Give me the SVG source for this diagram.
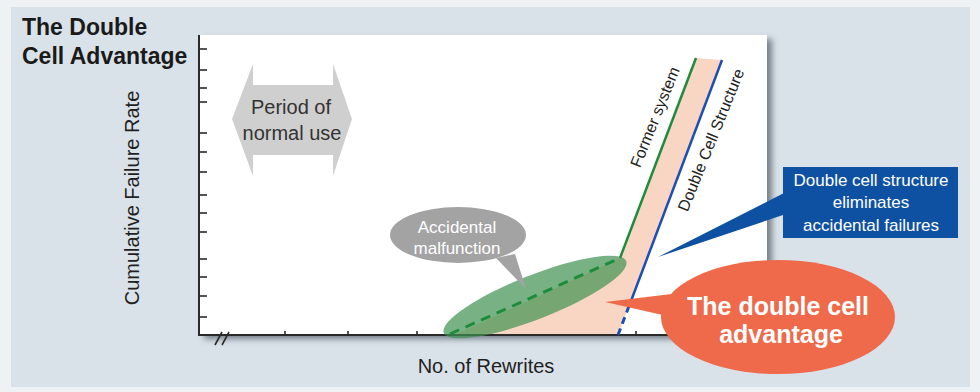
<svg xmlns="http://www.w3.org/2000/svg" width="980" height="392" viewBox="0 0 980 392">
<defs>
<filter id="shadow" x="-5%" y="-5%" width="115%" height="115%">
<feDropShadow dx="5" dy="4" stdDeviation="3" flood-color="#4a5560" flood-opacity="0.7"/>
</filter>
<style>
text{font-family:"Liberation Sans",Arial,Helvetica,sans-serif}
.title{font-size:23px;font-weight:bold;fill:#1a1a1a}
.axis{font-size:20px;fill:#1f1f1f}
.tick{stroke:#2a2a2a;stroke-width:1.6}
.dark{fill:#333}
.white{fill:#fff}
</style>
</defs>
<rect x="0" y="0" width="980" height="392" fill="#eef2f5"/>
<rect x="11" y="7" width="959" height="380" fill="#dae2e9"/>
<text class="title" x="22" y="35">The Double</text>
<text class="title" x="22" y="64">Cell Advantage</text>
<g id="plot">
<rect x="199" y="35" width="568" height="300" fill="#fff" filter="url(#shadow)"/>
<polygon points="696,58 722,60 618,335 455,335 620,258" fill="#f9d6c4"/>
</g>
<g id="axes">
<line x1="199" y1="35" x2="199" y2="336" stroke="#2a2a2a" stroke-width="2"/>
<line x1="198" y1="335" x2="767" y2="335" stroke="#2a2a2a" stroke-width="2"/>
<g class="tick">
<line x1="199" y1="49" x2="207" y2="49"/>
<line x1="199" y1="70" x2="207" y2="70"/>
<line x1="199" y1="88" x2="207" y2="88"/>
<line x1="199" y1="102" x2="207" y2="102"/>
<line x1="199" y1="133" x2="207" y2="133"/>
<line x1="199" y1="152" x2="207" y2="152"/>
<line x1="199" y1="172" x2="207" y2="172"/>
<line x1="199" y1="195" x2="207" y2="195"/>
<line x1="199" y1="213" x2="207" y2="213"/>
<line x1="199" y1="232" x2="207" y2="232"/>
<line x1="199" y1="259" x2="207" y2="259"/>
<line x1="199" y1="277" x2="207" y2="277"/>
<line x1="199" y1="296" x2="207" y2="296"/>
<line x1="199" y1="317" x2="207" y2="317"/>
<line x1="285" y1="335" x2="285" y2="331"/>
<line x1="348" y1="335" x2="348" y2="331"/>
<line x1="417" y1="335" x2="417" y2="331"/>
<line x1="636" y1="335" x2="636" y2="331"/>
</g>
<line x1="215" y1="345" x2="222" y2="332" stroke="#2a2a2a" stroke-width="1.6"/>
<line x1="222" y1="345" x2="229" y2="332" stroke="#2a2a2a" stroke-width="1.6"/>
<text class="axis" x="486" y="373" text-anchor="middle">No. of Rewrites</text>
<text class="axis" transform="translate(139,198) rotate(-90)" text-anchor="middle">Cumulative Failure Rate</text>
</g>
<g id="period">
<polygon points="232,119 253,64 253,85 333,85 333,64 352,119 333,176 333,155 253,155 253,176" fill="#cfcfcf"/>
<text class="dark" x="291" y="114" font-size="20" text-anchor="middle">Period of</text>
<text class="dark" x="292" y="140" font-size="20" text-anchor="middle">normal use</text>
</g>
<g id="connectors">
<line x1="620" y1="258" x2="696" y2="58" stroke="#1e8c3c" stroke-width="2.5"/>
<line x1="631" y1="301" x2="722" y2="60" stroke="#1d4fb2" stroke-width="2.5"/>
<line x1="618" y1="335" x2="631" y2="301" stroke="#1d4fb2" stroke-width="3" stroke-dasharray="7,5"/>
</g>
<g id="accidental-zone">
<ellipse cx="535" cy="297" rx="98" ry="22" transform="rotate(-21.5 535 297)" fill="#3f9150" fill-opacity="0.7"/>
<polyline points="450,334 620,258" fill="none" stroke="#1e8c3c" stroke-width="3" stroke-dasharray="10,7"/>
</g>
<g id="former-label">
<text transform="translate(655,117) rotate(-68)" x="0" y="5.5" font-size="16" fill="#222" text-anchor="middle">Former system</text>
</g>
<g id="dcs-label">
<text transform="translate(711,140) rotate(-68)" x="0" y="5.5" font-size="16" fill="#222" text-anchor="middle">Double Cell Structure</text>
</g>
<g id="accidental-callout">
<polygon points="496,258 515,254 526,289" fill="#a3a3a3"/>
<ellipse cx="458" cy="235" rx="68" ry="28" fill="#a3a3a3"/>
<text class="white" x="457" y="233" font-size="17" text-anchor="middle">Accidental</text>
<text class="white" x="457" y="254" font-size="17" text-anchor="middle">malfunction</text>
</g>
<g id="blue-callout">
<polygon points="658,257 786,192 786,214" fill="#0e51a3"/>
<rect x="783" y="167" width="175" height="71" fill="#0e51a3"/>
<text class="white" x="871" y="186" font-size="17" text-anchor="middle">Double cell structure</text>
<text class="white" x="871" y="208" font-size="17" text-anchor="middle">eliminates</text>
<text class="white" x="871" y="231" font-size="17" text-anchor="middle">accidental failures</text>
</g>
<g id="advantage-callout">
<polygon points="605,302 680,293 676,318" fill="#ef6a4b"/>
<ellipse cx="778" cy="317" rx="117" ry="57" fill="#ef6a4b"/>
<text class="white" x="778" y="315" font-size="25" font-weight="bold" text-anchor="middle">The double cell</text>
<text class="white" x="781" y="343" font-size="25" font-weight="bold" text-anchor="middle">advantage</text>
</g>
</svg>
